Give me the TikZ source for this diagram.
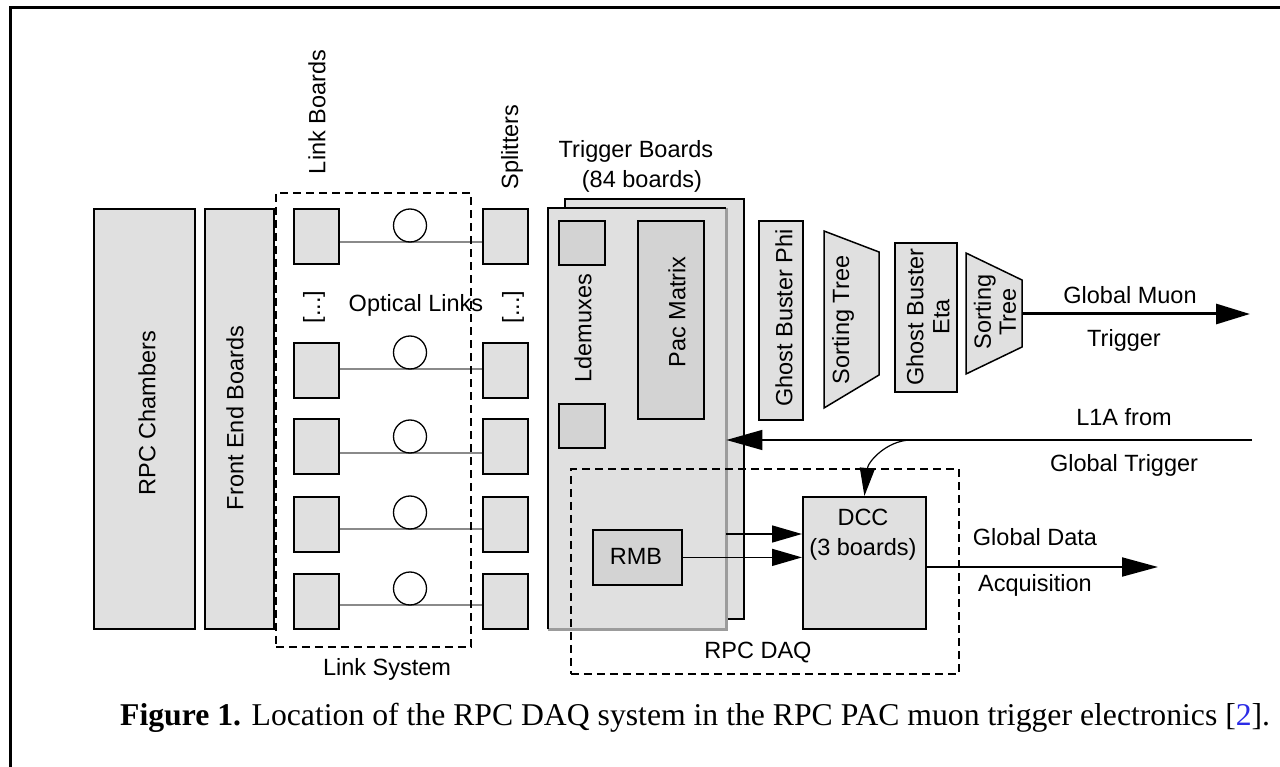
\documentclass[tikz,border=0pt]{standalone}
\usepackage{fontspec}
\setmainfont{Liberation Serif}
\setsansfont{Liberation Sans}
\usetikzlibrary{arrows.meta}

\definecolor{boardgray}{HTML}{E0E0E0}
\definecolor{chipgray}{HTML}{D3D3D3}
\definecolor{fibregray}{HTML}{8A8A8A}
\definecolor{edgegray}{HTML}{9C9C9C}
\definecolor{refblue}{HTML}{2B2BE6}

\begin{document}
\begin{tikzpicture}[x=1pt,y=-1pt,
  boxunit/.style={draw=black, line width=1.8pt, fill=boardgray, inner sep=0pt, anchor=north west},
  chip/.style={boxunit, fill=chipgray},
  txt/.style={font=\sffamily\fontsize{23.5}{28}\selectfont, inner sep=0pt, align=center},
  vtxt/.style={txt, rotate=90},
  dashbox/.style={draw=black, line width=1.6pt, dash pattern=on 8pt off 5pt, inner sep=0pt, anchor=north west},
  fibre/.style={draw=fibregray, line width=2.2pt},
  spool/.style={circle, draw=black, line width=1.3pt, minimum size=33pt, inner sep=0pt},
  flow/.style={draw=black, line width=1.5pt, -{Triangle[length=30pt,width=17pt]}},
  bigflow/.style={draw=black, line width=3pt, -{Triangle[length=34pt,width=20pt]}},
]
\useasboundingbox (0,0) rectangle (1280,767);

% page frame
\draw[line width=2.5pt] (10.5,767) -- (10.5,7.7) -- (1280,7.7);

% detector side
\node[boxunit, minimum width=101pt, minimum height=420pt] (rpc) at (93,208) {};
\node[vtxt] (rpctxt) at (147,413) {RPC Chambers};
\node[boxunit, minimum width=69pt, minimum height=420pt] (feb) at (204,208) {};
\node[vtxt] (febtxt) at (235,418) {Front End Boards};

% link system: link boards, optical fibres, splitters
\node[vtxt] (lbtitle) at (317,112) {Link Boards};
\node[vtxt] (sptitle) at (512,147) {Splitters};
\foreach \i/\top/\ly in {1/208/242, 2/342/369, 3/418/453, 4/496/529, 5/573/605} {
  \node[boxunit, minimum width=45pt, minimum height=55pt] (lb\i) at (293,\top) {};
  \node[boxunit, minimum width=45pt, minimum height=55pt] (sp\i) at (482,\top) {};
  \coordinate (fl\i) at (410,\ly);
  \draw[fibre] (lb\i.east |- fl\i) -- (sp\i.west |- fl\i);
  \node[spool] (ol\i) at (410,\ly-16.5) {};
}
\node[vtxt] (lbdots) at (314,307) {[...]};
\node[vtxt] (spdots) at (513,307) {[...]};
\node[txt] (optlinks) at (416,305) {Optical Links};
\node[dashbox, minimum width=195pt, minimum height=454pt] (linksys) at (275,192) {};
\node[txt] (linksystxt) at (387,669) {Link System};

% trigger boards
\node[txt] (tbtitle) at (636,151) {Trigger Boards};
\node[txt] (tbcount) at (642,181) {(84 boards)};
\node[boxunit, minimum width=179pt, minimum height=420pt] (tbback) at (564,198) {};
\node[fill=boardgray, inner sep=0pt, anchor=north west, minimum width=178pt, minimum height=421pt] (tbfront) at (548,208) {};
\draw[edgegray, line width=2.5pt] (tbfront.north east) -- (tbfront.south east) -- (tbfront.south west);
\draw[line width=1.8pt] (tbfront.south west) -- (tbfront.north west) -- (tbfront.north east);
\node[chip, minimum width=46pt, minimum height=44pt] (ldm1) at (558,220) {};
\node[chip, minimum width=46pt, minimum height=44pt] (ldm2) at (558,403) {};
\node[vtxt] (ldmtxt) at (583,328) {Ldemuxes};
\node[chip, minimum width=66pt, minimum height=198pt] (pac) at (637,220) {};
\node[vtxt] (pactxt) at (677,312) {Pac Matrix};

% ghost busters and sorters
\node[boxunit, minimum width=44pt, minimum height=199pt] (gbphi) at (758,220) {};
\node[vtxt] (gbphitxt) at (784,318) {Ghost Buster Phi};
\draw[line width=1.5pt, fill=boardgray] (824,231) -- (879,252) -- (879,375) -- (824,408) -- cycle;
\node[vtxt] (st1txt) at (843,320) {Sorting Tree};
\node[boxunit, minimum width=62pt, minimum height=149pt] (gbeta) at (894,242) {};
\node[vtxt, font=\sffamily\fontsize{23.5}{26}\selectfont] (gbetatxt) at (928,317) {Ghost Buster\\Eta};
\draw[line width=1.5pt, fill=boardgray] (966,253) -- (1022,280) -- (1022,347) -- (966,374) -- cycle;
\node[vtxt, font=\sffamily\fontsize{23.5}{25}\selectfont] (st2txt) at (995,312) {Sorting\\Tree};
\coordinate (st2out) at (1022,314);

% global muon trigger output
\coordinate (gmt) at (1250,314);
\draw[bigflow] (st2out) -- (gmt);
\node[txt] (gmttxt1) at (1130,295) {Global Muon};
\node[txt] (gmttxt2) at (1124,340) {Trigger};

% RPC DAQ
\node[chip, minimum width=89pt, minimum height=55pt] (rmb) at (592,529) {};
\node[txt] (rmbtxt) at (636,556) {RMB};
\node[boxunit, minimum width=123pt, minimum height=132pt] (dcc) at (802,496) {};
\node[txt, font=\sffamily\fontsize{23.5}{30}\selectfont] (dcctxt) at (863,535) {DCC\\(3 boards)};
\node[dashbox, minimum width=388pt, minimum height=205pt] (daq) at (570,468) {};
\node[txt] (daqtxt) at (758,653) {RPC DAQ};

\coordinate (tbdata) at (726,534);
\draw[flow] (tbdata) -- (dcc.west |- tbdata);
\draw[flow] (rmb.east) -- (dcc.west |- rmb.east);

% L1A from global trigger
\coordinate (l1a) at (1252,440);
\coordinate (tap) at (910,440);
\draw[flow, -{Triangle[length=36pt,width=20pt]}] (l1a) -- (tbfront.east |- l1a);
\draw[line width=1.2pt, -{Triangle[length=28pt,width=15pt]}] (tap) .. controls (886,441) and (868,462) .. (dcc.north);
\node[txt] (l1atxt1) at (1124,417) {L1A from};
\node[txt] (l1atxt2) at (1124,465) {Global Trigger};

% global data acquisition output
\coordinate (gda) at (1158,567);
\draw[line width=2pt, -{Triangle[length=36pt,width=19pt]}] (dcc.east |- gda) -- (gda);
\node[txt] (gdatxt1) at (1035,537) {Global Data};
\node[txt] (gdatxt2) at (1035,585) {Acquisition};

% caption
\node[font=\fontsize{31.7}{34}\selectfont, inner sep=0pt, anchor=west] (caption) at (120,718)
  {\textbf{Figure 1.} Location of the RPC DAQ system in the RPC PAC muon trigger electronics [{\color{refblue}2}].};
\end{tikzpicture}
\end{document}
